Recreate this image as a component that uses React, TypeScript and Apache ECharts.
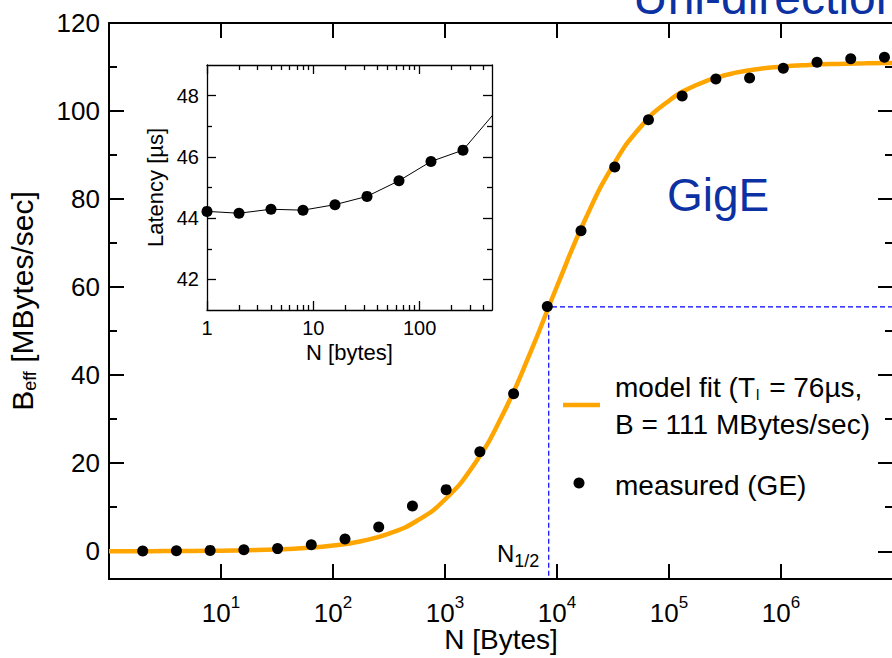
import React, { useEffect, useRef } from "react";
import * as echarts from "echarts";

// ---------- data ----------
const measuredN = [2, 4, 8, 16, 32, 64, 128, 256, 512, 1024, 2048, 4096, 8192, 16384, 32768, 65536, 131072, 262144, 524288, 1048576, 2097152, 4194304, 8388608];
const measuredB = [0.05, 0.1, 0.2, 0.35, 0.6, 1.5, 2.8, 5.5, 10.3, 14.0, 22.6, 35.8, 55.6, 72.8, 87.3, 98.0, 103.4, 107.3, 107.5, 109.7, 111.1, 111.9, 112.2];

const fitN = [1, 1.78, 3.16, 5.62, 10, 17.8, 31.6, 56.2, 100, 178, 316, 562, 1000, 1780, 3160, 5620, 10000, 17800, 31600, 56200, 100000, 178000, 316000, 562000, 1000000, 1780000, 3160000, 5620000, 10000000];
const fitB = [0.013, 0.023, 0.042, 0.074, 0.131, 0.234, 0.413, 0.737, 1.3, 2.29, 4.01, 6.93, 11.76, 19.34, 30.25, 44.38, 60.2, 75.31, 87.61, 96.51, 102.35, 105.98, 108.12, 109.36, 110.07, 110.48, 110.71, 110.83, 110.92];

const halfN = 8436; // N_1/2
const halfB = 55.5; // B/2

const latencyN = [1, 2, 4, 8, 16, 32, 64, 128, 256];
const latencyUs = [44.22, 44.16, 44.29, 44.26, 44.44, 44.71, 45.22, 45.85, 46.22];
const latencyTailN = [512];
const latencyTailUs = [47.45];

const mainXMin = 1;
const mainXMax = 1e7;
const mainXExponents = [1, 2, 3, 4, 5, 6];
const mainYMin = -6.3;
const mainYMax = 120;
const mainYTicks = [0, 20, 40, 60, 80, 100, 120];
const mainYMinor = [10, 30, 50, 70, 90, 110];

const insetXMin = 1;
const insetXMax = 480;
const insetXTicks = [1, 10, 100];
const insetXMinor = [2, 3, 4, 5, 6, 7, 8, 9, 20, 30, 40, 50, 60, 70, 80, 90, 200, 300, 400];
const insetYMin = 41;
const insetYMax = 49;
const insetYTicks = [42, 44, 46, 48];
const insetYMinor = [43, 45, 47];

// ---------- style ----------
const FONT = "'Liberation Sans', Arial, Helvetica, sans-serif";
const BLACK = "#000";
const ORANGE = "#FFA500";
const TEXT_BLUE = "#0b31a3";

function xAx(grid: number, pos: string, min: number, max: number, lineW: number, tick: any, label: any, extra: any = {}) {
  return {
    type: "log",
    logBase: 10,
    gridIndex: grid,
    position: pos,
    min,
    max,
    axisLine: { show: lineW > 0, onZero: false, lineStyle: { color: BLACK, width: lineW } },
    axisTick: tick,
    axisLabel: label,
    splitLine: { show: false },
    minorTick: { show: false },
    ...extra,
  };
}

function yAx(grid: number, pos: string, min: number, max: number, lineW: number, tick: any, label: any, extra: any = {}) {
  return {
    type: "value",
    gridIndex: grid,
    position: pos,
    min,
    max,
    axisLine: { show: lineW > 0, onZero: false, lineStyle: { color: BLACK, width: lineW } },
    axisTick: tick,
    axisLabel: label,
    splitLine: { show: false },
    minorTick: { show: false },
    ...extra,
  };
}

const noLabel = { show: false };

function buildOption() {
  const mainTick = (values: number[] | null, len: number) => ({
    show: true,
    inside: true,
    length: len,
    ...(values ? { customValues: values } : {}),
    lineStyle: { color: BLACK, width: 2 },
  });
  const insetTick = (values: number[], len: number) => ({
    show: true,
    inside: true,
    length: len,
    customValues: values,
    lineStyle: { color: BLACK, width: 1.3 },
  });

  const xAxis = [
    xAx(0, "bottom", mainXMin, mainXMax, 2, mainTick(null, 15), {
      show: true,
      interval: 0,
      margin: 15,
      color: BLACK,
      fontFamily: FONT,
      fontSize: 26,
      formatter: (v: number) => {
        const e = Math.round(Math.log10(v));
        return mainXExponents.includes(e) ? `{b|10}{sup|${e}}` : "";
      },
      rich: {
        b: { fontSize: 26, fontFamily: FONT, color: BLACK },
        sup: { fontSize: 17, fontFamily: FONT, color: BLACK, padding: [0, 0, 20, 0] },
      },
    }, {
      name: "N [Bytes]",
      nameLocation: "middle",
      nameGap: 46,
      nameMoveOverlap: false,
      nameTextStyle: { fontSize: 28, fontFamily: FONT, color: BLACK },
    }),
    xAx(0, "top", mainXMin, mainXMax, 2, mainTick(null, 15), noLabel),
    xAx(1, "bottom", insetXMin, insetXMax, 1.3, insetTick(insetXTicks, 9), {
      show: true,
      customValues: insetXTicks,
      margin: 8,
      color: BLACK,
      fontFamily: FONT,
      fontSize: 20,
      formatter: (v: number) => String(Math.round(v)),
    }, {
      name: "N [bytes]",
      nameLocation: "middle",
      nameGap: 31,
      nameTextStyle: { fontSize: 22, fontFamily: FONT, color: BLACK },
    }),
    xAx(1, "bottom", insetXMin, insetXMax, 0, insetTick(insetXMinor, 5), noLabel),
    xAx(1, "top", insetXMin, insetXMax, 1.3, insetTick(insetXTicks, 9), noLabel),
    xAx(1, "top", insetXMin, insetXMax, 0, insetTick(insetXMinor, 5), noLabel),
  ];

  const yAxis = [
    yAx(0, "left", mainYMin, mainYMax, 2, mainTick(mainYTicks, 15), {
      show: true,
      customValues: mainYTicks,
      margin: 9,
      color: BLACK,
      fontFamily: FONT,
      fontSize: 26,
    }, {
      name: "{b|B}{sub|eff}{b| [MBytes/sec]}",
      nameLocation: "middle",
      nameRotate: 90,
      nameGap: 70,
      nameTextStyle: {
        fontSize: 30,
        fontFamily: FONT,
        color: BLACK,
        rich: {
          b: { fontSize: 30, fontFamily: FONT, color: BLACK },
          sub: { fontSize: 18, fontFamily: FONT, color: BLACK, padding: [15, 0, 0, 0] },
        },
      },
    }),
    yAx(0, "left", mainYMin, mainYMax, 0, mainTick(mainYMinor, 8), noLabel),
    yAx(0, "right", mainYMin, mainYMax, 2, mainTick(mainYTicks, 15), noLabel),
    yAx(0, "right", mainYMin, mainYMax, 0, mainTick(mainYMinor, 8), noLabel),
    yAx(1, "left", insetYMin, insetYMax, 1.3, insetTick(insetYTicks, 9), {
      show: true,
      customValues: insetYTicks,
      margin: 8,
      color: BLACK,
      fontFamily: FONT,
      fontSize: 20,
    }, {
      name: "Latency [µs]",
      nameLocation: "middle",
      nameRotate: 90,
      nameGap: 41,
      nameTextStyle: { fontSize: 22, fontFamily: FONT, color: BLACK },
    }),
    yAx(1, "left", insetYMin, insetYMax, 0, insetTick(insetYMinor, 5), noLabel),
    yAx(1, "right", insetYMin, insetYMax, 1.3, insetTick(insetYTicks, 9), noLabel),
    yAx(1, "right", insetYMin, insetYMax, 0, insetTick(insetYMinor, 5), noLabel),
  ];

  const series = [
    {
      name: "N1/2 guide",
      type: "line",
      xAxisIndex: 0,
      yAxisIndex: 0,
      data: [[mainXMax, halfB], [halfN, halfB], [halfN, mainYMin]],
      symbol: "none",
      silent: true,
      lineStyle: { color: "#0000ff", width: 1.2, type: [5, 3] },
      z: 1,
    },
    {
      name: "model fit",
      type: "line",
      xAxisIndex: 0,
      yAxisIndex: 0,
      data: fitN.map((n, i) => [n, fitB[i]]),
      symbol: "none",
      smooth: 0.5,
      lineStyle: { color: ORANGE, width: 4.5 },
      z: 2,
    },
    {
      name: "measured (GE)",
      type: "scatter",
      xAxisIndex: 0,
      yAxisIndex: 0,
      data: measuredN.map((n, i) => [n, measuredB[i]]),
      symbol: "circle",
      symbolSize: 11,
      itemStyle: { color: BLACK, opacity: 1 },
      z: 3,
    },
    {
      name: "latency line",
      type: "line",
      xAxisIndex: 2,
      yAxisIndex: 4,
      data: [...latencyN.map((n, i) => [n, latencyUs[i]]), ...latencyTailN.map((n, i) => [n, latencyTailUs[i]])],
      symbol: "none",
      lineStyle: { color: BLACK, width: 1 },
      z: 4,
    },
    {
      name: "latency",
      type: "scatter",
      xAxisIndex: 2,
      yAxisIndex: 4,
      data: latencyN.map((n, i) => [n, latencyUs[i]]),
      symbol: "circle",
      symbolSize: 11,
      itemStyle: { color: BLACK, opacity: 1 },
      z: 5,
    },
  ];

  const graphic = [
    {
      type: "text",
      x: 633,
      y: -3,
      style: { text: "Uni-directional", fontSize: 48, fontFamily: FONT, fill: TEXT_BLUE, verticalAlign: "middle", align: "left" },
    },
    {
      type: "text",
      x: 667,
      y: 195,
      style: { text: "GigE", fontSize: 46, fontFamily: FONT, fill: TEXT_BLUE, verticalAlign: "middle", align: "left" },
    },
    {
      type: "line",
      shape: { x1: 563, y1: 405, x2: 600, y2: 405 },
      style: { stroke: ORANGE, lineWidth: 4.5 },
    },
    {
      type: "text",
      x: 615,
      y: 406,
      style: {
        text: "{t|model fit (T}{sub|l}{t| = 76µs,}\n{t|B = 111 MBytes/sec)}",
        fontSize: 28,
        fontFamily: FONT,
        fill: BLACK,
        verticalAlign: "middle",
        align: "left",
        lineHeight: 37,
        rich: {
          t: { fontSize: 28, fontFamily: FONT, fill: BLACK, lineHeight: 37 },
          sub: { fontSize: 15, fontFamily: FONT, fill: BLACK, padding: [14, 2, 0, 1], lineHeight: 37 },
        },
      },
    },
    {
      type: "circle",
      shape: { cx: 579, cy: 483, r: 5.5 },
      style: { fill: BLACK },
    },
    {
      type: "text",
      x: 615,
      y: 485,
      style: { text: "measured (GE)", fontSize: 28, fontFamily: FONT, fill: BLACK, verticalAlign: "middle", align: "left" },
    },
    {
      type: "text",
      x: 497,
      y: 553,
      style: {
        text: "{n|N}{sub|1/2}",
        verticalAlign: "middle",
        align: "left",
        rich: {
          n: { fontSize: 24, fontFamily: FONT, fill: BLACK },
          sub: { fontSize: 18, fontFamily: FONT, fill: BLACK, padding: [16, 0, 0, 0] },
        },
      },
    },
  ];

  return {
    animation: false,
    backgroundColor: "#fff",
    textStyle: { fontFamily: FONT },
    grid: [
      { left: 109, top: 23, width: 784, height: 556, show: false, containLabel: false, outerBoundsMode: "none" },
      { left: 207, top: 65, width: 285, height: 245, show: true, backgroundColor: "#fff", borderWidth: 0, containLabel: false, outerBoundsMode: "none" },
    ],
    xAxis,
    yAxis,
    series,
    graphic,
  };
}

export default function App() {
  const ref = useRef<HTMLDivElement>(null);
  useEffect(() => {
    if (!ref.current) return;
    const chart = echarts.init(ref.current, null, { renderer: "svg" });
    chart.setOption(buildOption() as any);
    return () => chart.dispose();
  }, []);
  return <div ref={ref} style={{ position: "absolute", left: 0, top: 0, width: 892, height: 658 }} />;
}
